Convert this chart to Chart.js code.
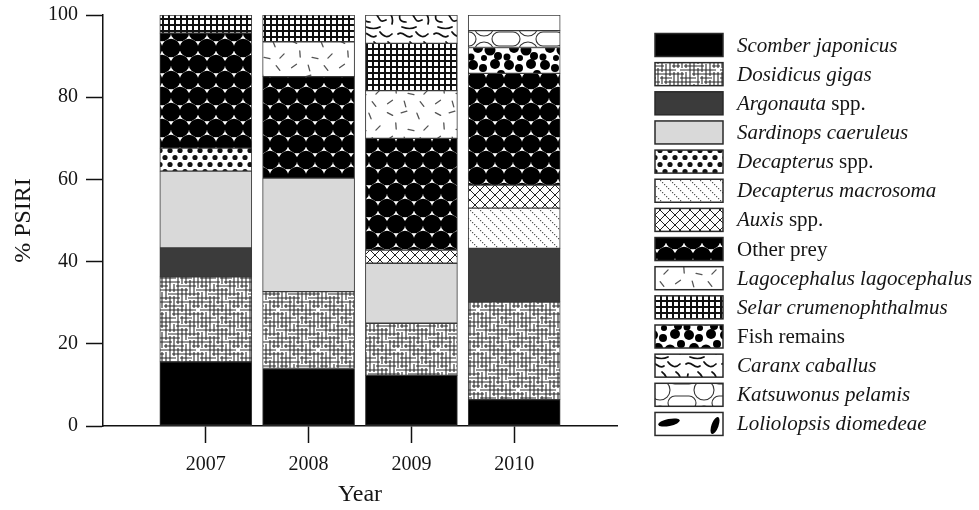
<!DOCTYPE html>
<html>
<head>
<meta charset="utf-8">
<script src="https://cdn.jsdelivr.net/npm/chart.js@4"></script>
<style>
  html, body { margin: 0; padding: 0; background: #fff; }
  #wrap { width: 979px; height: 510px; }
</style>
</head>
<body>
<div id="wrap"><canvas id="chart" width="979" height="510"></canvas></div>
<script>
// Prey composition (% PSIRI) by sampling year
const years = ['2007', '2008', '2009', '2010'];

const scomberJaponicus      = [15.6, 14.0, 12.3,  6.4];
const dosidicusGigas        = [20.7, 18.7, 12.7, 23.8];
const argonautaSpp          = [ 7.0,  0,    0,   13.0];
const sardinopsCaeruleus    = [18.7, 27.6, 14.6,  0];
const decapterusSpp         = [ 5.6,  0,    0,    0];
const decapterusMacrosoma   = [ 0,    0,    0,    9.8];
const auxisSpp              = [ 0,    0,    3.2,  5.6];
const otherPrey             = [28.0, 24.7, 27.2, 27.2];
const lagocephalus          = [ 0,    8.5, 11.6,  0];
const selarCrumenophthalmus = [ 4.4,  6.5, 11.5,  0];
const fishRemains           = [ 0,    0,    0,    6.3];
const caranxCaballus        = [ 0,    0,    6.9,  0];
const katsuwonusPelamis     = [ 0,    0,    0,    4.1];
const loliolopsisDiomedeae  = [ 0,    0,    0,    3.8];

const seriesLabels = [
  'Scomber japonicus', 'Dosidicus gigas', 'Argonauta spp.', 'Sardinops caeruleus',
  'Decapterus spp.', 'Decapterus macrosoma', 'Auxis spp.', 'Other prey',
  'Lagocephalus lagocephalus', 'Selar crumenophthalmus', 'Fish remains',
  'Caranx caballus', 'Katsuwonus pelamis', 'Loliolopsis diomedeae'
];
const seriesValues = [
  scomberJaponicus, dosidicusGigas, argonautaSpp, sardinopsCaeruleus,
  decapterusSpp, decapterusMacrosoma, auxisSpp, otherPrey,
  lagocephalus, selarCrumenophthalmus, fishRemains,
  caranxCaballus, katsuwonusPelamis, loliolopsisDiomedeae
];
const uprightLabels = ['Other prey', 'Fish remains'];

const SERIF = '"Liberation Serif", "Times New Roman", serif';
const INK = '#151515';

// ---------- fill patterns (anchored to the canvas origin) ----------
function tile(w, h, paint, bg) {
  const c = document.createElement('canvas');
  c.width = w; c.height = h;
  const g = c.getContext('2d');
  g.fillStyle = bg || '#fff';
  g.fillRect(0, 0, w, h);
  paint(g, w, h);
  return g.createPattern(c, 'repeat');
}
function wrapped(g, w, h, fn) {
  for (const dx of [-w, 0, w]) for (const dy of [-h, 0, h]) {
    g.save(); g.translate(dx, dy); fn(g); g.restore();
  }
}

// irregular line mesh: long runs with occasional gaps
const meshH = ['1111101111','1100111110','1111111001','0011111111','1111100111',
               '1110111111','0111110011','1111111110','1001111111','1111011100'];
const meshV = ['1110111111','1111100111','0111111110','1100111111','1111111001',
               '1011110111','1111011111','0011111100','1111101111','1110111011'];
const meshFill = tile(40, 40, (g) => {
  g.strokeStyle = '#2a2a2a'; g.lineWidth = 1.1;
  g.beginPath();
  for (let r = 0; r < 10; r++) for (let c = 0; c < 10; c++) {
    if (meshH[r][c] === '1') { g.moveTo(c * 4, r * 4 + 2); g.lineTo(c * 4 + 4, r * 4 + 2); }
    if (meshV[r][c] === '1') { g.moveTo(c * 4 + 2, r * 4); g.lineTo(c * 4 + 2, r * 4 + 4); }
  }
  g.stroke();
});

const dotFill = tile(20, 14, (g) => {
  g.fillStyle = '#111';
  [[5, 3.5], [15, 3.5], [0, 10.5], [10, 10.5], [20, 10.5]].forEach(([x, y]) => {
    g.beginPath(); g.arc(x, y, 2.6, 0, Math.PI * 2); g.fill();
  });
});

const dottedDiagFill = tile(10, 10, (g) => {
  g.fillStyle = '#555';
  for (let i = 0; i < 10; i += 2) g.fillRect(i, i, 1.2, 1.2);
});

const crossFill = tile(10, 10, (g) => {
  g.strokeStyle = '#222'; g.lineWidth = 1;
  g.beginPath();
  g.moveTo(0, 0); g.lineTo(10, 10);
  g.moveTo(10, 0); g.lineTo(0, 10);
  g.stroke();
});

const hexBlobFill = tile(18, 32, (g) => {
  g.fillStyle = '#000';
  [[0, 0], [18, 0], [9, 16], [0, 32], [18, 32]].forEach(([x, y]) => {
    g.beginPath(); g.arc(x, y, 9.3, 0, Math.PI * 2); g.fill();
  });
});

const dashFill = tile(48, 36, (g, w, h) => {
  g.strokeStyle = '#555'; g.lineWidth = 1.3; g.lineCap = 'round';
  const dashes = [[6, 6, 0.5], [20, 4, -0.3], [34, 8, 1.2], [42, 20, -0.8], [12, 18, 1.5],
                  [27, 22, 0.2], [6, 30, -0.6], [38, 32, 0.9], [21, 32, 1.3]];
  wrapped(g, w, h, (q) => {
    dashes.forEach(([x, y, a]) => {
      q.beginPath();
      q.moveTo(x - 3 * Math.cos(a), y - 3 * Math.sin(a));
      q.lineTo(x + 3 * Math.cos(a), y + 3 * Math.sin(a));
      q.stroke();
    });
  });
});

const gridFill = tile(6, 6, (g) => {
  g.fillStyle = '#fff'; g.fillRect(2, 2, 4, 4);
}, '#111');

const blobFill = tile(36, 30, (g, w, h) => {
  g.fillStyle = '#000';
  const blobs = [[5, 5, 5], [15, 8, 4], [27, 4, 5], [33, 14, 4], [10, 18, 5],
                 [22, 20, 5.5], [3, 27, 3.5], [30, 26, 4], [16, 28, 3]];
  wrapped(g, w, h, (q) => {
    blobs.forEach(([x, y, r]) => { q.beginPath(); q.arc(x, y, r, 0, Math.PI * 2); q.fill(); });
  });
});

const wormFill = tile(36, 30, (g, w, h) => {
  g.strokeStyle = '#111'; g.lineWidth = 1.7; g.lineCap = 'round';
  wrapped(g, w, h, (q) => {
    q.beginPath();
    q.moveTo(2, 4); q.bezierCurveTo(8, 0, 10, 10, 16, 6);
    q.moveTo(20, 2); q.quadraticCurveTo(26, 10, 32, 4);
    q.moveTo(4, 14); q.quadraticCurveTo(2, 22, 10, 22);
    q.moveTo(14, 12); q.bezierCurveTo(20, 16, 18, 24, 26, 20);
    q.moveTo(28, 12); q.quadraticCurveTo(34, 16, 32, 24);
    q.moveTo(6, 27); q.quadraticCurveTo(14, 30, 20, 27);
    q.stroke();
  });
});

const scallopFill = tile(44, 26, (g) => {
  g.strokeStyle = '#333'; g.lineWidth = 1.1;
  g.beginPath(); g.arc(0, 0, 10, 0, Math.PI / 2); g.stroke();
  g.beginPath(); g.arc(44, 0, 10, Math.PI / 2, Math.PI); g.stroke();
  g.beginPath(); g.arc(0, 26, 10, -Math.PI / 2, 0); g.stroke();
  g.beginPath(); g.arc(44, 26, 10, Math.PI, Math.PI * 1.5); g.stroke();
  g.beginPath(); g.arc(15, 13, 7, Math.PI * 0.5, Math.PI * 1.5); g.stroke();
  g.beginPath(); g.arc(29, 13, 7, -Math.PI * 0.5, Math.PI * 0.5); g.stroke();
  g.beginPath(); g.moveTo(15, 6); g.lineTo(29, 6); g.moveTo(15, 20); g.lineTo(29, 20); g.stroke();
});

// sparse leaves: a tall tile so large gaps of white remain between them
const leafFill = tile(72, 60, (g, w, h) => {
  g.fillStyle = '#000';
  wrapped(g, w, h, (q) => {
    q.beginPath(); q.ellipse(21, 2.5, 11, 3.5, -0.2, 0, Math.PI * 2); q.fill();
    q.beginPath(); q.ellipse(67, 5.5, 3.5, 9, 0.35, 0, Math.PI * 2); q.fill();
  });
});

const fills = [
  '#000000', meshFill, '#3b3b3b', '#d9d9d9',
  dotFill, dottedDiagFill, crossFill, hexBlobFill,
  dashFill, gridFill, blobFill,
  wormFill, scallopFill, leafFill
];

// ---------- legend with mixed italic / upright text ----------
function labelParts(label) {
  if (uprightLabels.includes(label)) return [[label, false]];
  if (label.endsWith(' spp.')) return [[label.slice(0, -5), true], [' spp.', false]];
  return [[label, true]];
}

const speciesLegend = {
  id: 'speciesLegend',
  afterDraw(chart) {
    const ctx = chart.ctx;
    const x0 = chart.chartArea.right + 38;
    const y0 = 45, step = 29.15, bw = 68, bh = 23;
    const tx = x0 + 82;
    seriesLabels.forEach((label, i) => {
      const cy = y0 + i * step;
      const top = cy - bh / 2;
      ctx.save();
      ctx.fillStyle = fills[i];
      ctx.fillRect(x0, top, bw, bh);
      ctx.lineWidth = 1.5;
      ctx.strokeStyle = '#2a2a2a';
      ctx.strokeRect(x0, top, bw, bh);
      ctx.restore();

      ctx.save();
      ctx.fillStyle = INK;
      ctx.textBaseline = 'middle';
      ctx.textAlign = 'left';
      let x = tx;
      labelParts(label).forEach(([txt, italic]) => {
        ctx.font = (italic ? 'italic ' : '') + '21px ' + SERIF;
        ctx.fillText(txt, x, cy + 1);
        x += ctx.measureText(txt).width;
      });
      ctx.restore();
    });
  }
};

// ---------- chart ----------
const datasets = seriesLabels.map((label, i) => ({
  label,
  data: seriesValues[i].map((v, j) => ({ x: j + 1, y: v > 0 ? v : null })),
  backgroundColor: fills[i],
  borderColor: '#3a3a3a',
  borderWidth: 1,
  borderSkipped: false,
  barThickness: 92
}));

new Chart(document.getElementById('chart'), {
  type: 'bar',
  data: { datasets },
  plugins: [speciesLegend],
  options: {
    responsive: false,
    animation: false,
    devicePixelRatio: 1,
    events: [],
    layout: { padding: { top: 15, right: 362, bottom: 0, left: 0 } },
    plugins: { legend: { display: false }, tooltip: { enabled: false } },
    scales: {
      x: {
        type: 'linear',
        stacked: true,
        min: 0,
        max: years.length + 1,
        offset: false,
        afterBuildTicks: (s) => { s.ticks = s.ticks.filter(t => t.value >= 1 && t.value <= years.length); },
        afterFit: (s) => { s.height = 84; s.paddingLeft = 0; s.paddingRight = 0; },
        ticks: {
          stepSize: 1,
          autoSkip: false,
          maxRotation: 0,
          padding: 10,
          color: INK,
          font: { family: SERIF, size: 20 },
          callback: (v) => years[v - 1] ?? ''
        },
        grid: { offset: false, drawOnChartArea: false, drawTicks: true, tickLength: 17, tickColor: '#111', tickWidth: 1.5 },
        border: { display: true, color: '#111', width: 1.5 },
        title: { display: true, text: 'Year', color: INK, font: { family: SERIF, size: 24, lineHeight: 1 }, padding: { top: 0, bottom: 3 } }
      },
      y: {
        stacked: true,
        min: 0,
        max: 100,
        afterFit: (s) => { s.width = 103; s.paddingTop = 0; s.paddingBottom = 0; },
        ticks: { stepSize: 20, padding: 8, color: INK, font: { family: SERIF, size: 20 } },
        grid: { drawOnChartArea: false, drawTicks: true, tickLength: 17, tickColor: '#111', tickWidth: 1.5 },
        border: { display: true, color: '#111', width: 1.5 },
        title: { display: true, text: '% PSIRI', color: INK, font: { family: SERIF, size: 24, lineHeight: 1 }, padding: { top: 12, bottom: 0 } }
      }
    }
  }
});
</script>
</body>
</html>
